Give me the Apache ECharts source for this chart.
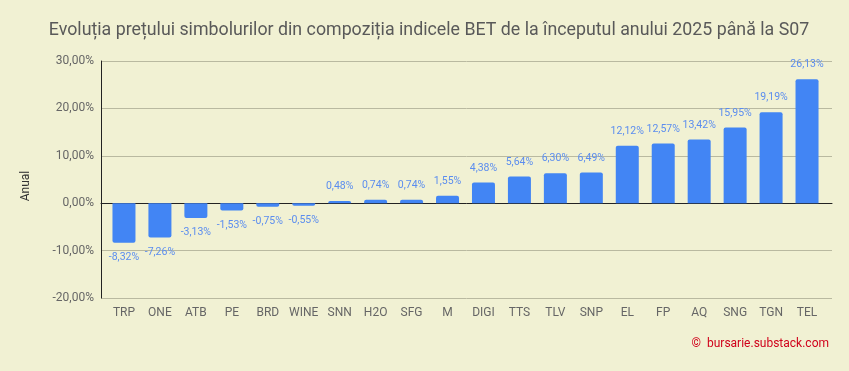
<!DOCTYPE html>
<html><head><meta charset="utf-8">
<script src="https://cdn.jsdelivr.net/npm/echarts@6/dist/echarts.min.js"></script>
<style>html,body{margin:0;padding:0;background:#f1f1d3;}#c{width:849px;height:371px;}</style>
</head><body><div id="c"></div>
<script>
const categories = ['TRP','ONE','ATB','PE','BRD','WINE','SNN','H2O','SFG','M','DIGI','TTS','TLV','SNP','EL','FP','AQ','SNG','TGN','TEL'];
const values = [-8.32,-7.26,-3.13,-1.53,-0.75,-0.55,0.48,0.74,0.74,1.55,4.38,5.64,6.30,6.49,12.12,12.57,13.42,15.95,19.19,26.13];
const yTicks = [-20,-10,0,10,20,30];
const fmt = v => v.toFixed(2).replace('.', ',') + '%';
const chart = echarts.init(document.getElementById('c'));
chart.setOption({
  backgroundColor: '#f1f1d3',
  animation: false,
  title: {
    text: 'Evoluția prețului simbolurilor din compoziția indicele BET de la începutul anului 2025 până la S07',
    left: 424, top: 17, textAlign: 'center',
    textStyle: {fontFamily: 'Roboto', fontSize: 17.8, fontWeight: 'normal', color: '#595959'}
  },
  graphic: [
    {type: 'text', right: 20, top: 338,
     style: {text: '©  bursarie.substack.com', fill: '#d0021b', font: '12px Roboto'}},
    {type: 'text', left: 20, top: 203, rotation: Math.PI / 2,
     style: {text: 'Anual', fill: '#333', font: '12px Roboto', textAlign: 'center', textVerticalAlign: 'middle'},
     x: 26, y: 186, left: null, top: null}
  ],
  grid: [
    {left: 101, right: 17, top: 61, bottom: 73},
    {left: 106, right: 24, top: 61, bottom: 73}
  ],
  xAxis: [
    {type: 'category', gridIndex: 0, data: categories, show: true,
     axisLine: {show: true, onZero: true, lineStyle: {color: '#222'}},
     axisTick: {show: false}, axisLabel: {show: false}, splitLine: {show: false}},
    {type: 'category', gridIndex: 1, data: categories,
     axisLine: {show: false}, axisTick: {show: false},
     axisLabel: {color: '#666', fontFamily: 'Roboto', fontSize: 12, margin: 9, interval: 0}}
  ],
  yAxis: [
    {type: 'value', gridIndex: 0, min: -20, max: 30, interval: 10,
     axisLine: {show: true, lineStyle: {color: '#222'}},
     axisTick: {show: false},
     axisLabel: {color: '#666', fontFamily: 'Roboto', fontSize: 12, margin: 7, formatter: v => fmt(v)},
     splitLine: {lineStyle: {color: '#b9b9a0'}}},
    {type: 'value', gridIndex: 1, min: -20, max: 30, interval: 10, show: false,
     splitLine: {show: false}}
  ],
  series: [{
    type: 'bar', xAxisIndex: 1, yAxisIndex: 1,
    data: values.map(v => ({
      value: v,
      itemStyle: {borderRadius: v >= 0 ? [2,2,0,0] : [0,0,2,2]}
    })),
    barWidth: 23,
    itemStyle: {color: '#4285f4'},
    z: 1,
    label: {
      show: true, position: 'outside', distance: 9,
      color: '#5b8def', fontFamily: 'Roboto', fontSize: 10.5,
      formatter: p => fmt(p.value)
    }
  }]
});
</script></body></html>
